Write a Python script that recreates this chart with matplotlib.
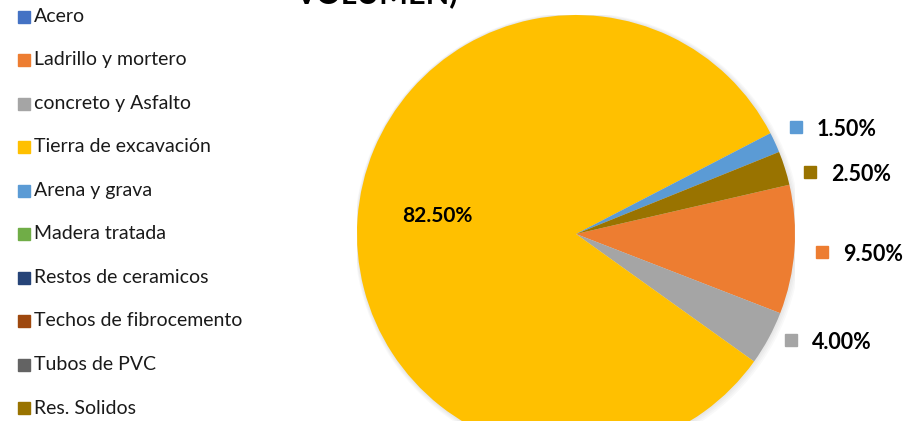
import numpy as np
from matplotlib import pyplot as plt

CATEGORIES = ['Acero', 'Ladrillo y mortero', 'concreto y Asfalto', 'Tierra de excavación',
              'Arena y grava', 'Madera tratada', 'Restos de ceramicos',
              'Techos de fibrocemento', 'Tubos de PVC', 'Res. Solidos']
VALUES = [0.0, 9.5, 4.0, 82.5, 1.5, 0.0, 0.0, 0.0, 0.0, 2.5]
COLORS = ['#4472C4', '#ED7D31', '#A5A5A5', '#FFC000', '#5B9BD5',
          '#70AD47', '#264478', '#9E480E', '#636363', '#997300']
TITLE = 'VOLUMEN)'

# label placement (angle in degrees, distance in radii), by category index
LABEL_POS = {1: (-4.2, 1.126), 2: (-26.2, 1.094), 3: (172.6, 0.638),
             4: (25.9, 1.117), 9: (14.8, 1.105)}
INSIDE = [3]
FONT = ['Lato', 'DejaVu Sans']


def main():
    plt.rcParams['font.family'] = FONT
    W, H = 912, 421
    fig = plt.figure(figsize=(W / 100, H / 100), dpi=100)

    # pie: centre (576, 234) px, radius 219 px
    cx, cy, r = 576, 234, 219
    ax = fig.add_axes([(cx - r) / W, (H - cy - r) / H, 2 * r / W, 2 * r / H])

    # soft shadow round the pie
    for k in range(5):
        ax.add_patch(plt.Circle((0.002 * k, -0.002 * k), 1 + 0.005 * k, color='black',
                                alpha=0.025, linewidth=0, zorder=0))

    wedges, _ = ax.pie(VALUES, colors=COLORS, startangle=13, counterclock=False,
                       radius=1, wedgeprops=dict(linewidth=0, zorder=2))
    ax.set_xlim(-1, 1)
    ax.set_ylim(-1, 1)

    for i, w in enumerate(wedges):
        if VALUES[i] == 0:
            continue
        label = '{:.2f}%'.format(VALUES[i])
        ang, d = LABEL_POS[i]
        x, y = d * np.cos(np.deg2rad(ang)), d * np.sin(np.deg2rad(ang))
        if i in INSIDE:
            ax.text(x, y, label, ha='center', va='center', fontsize=15,
                    fontweight='bold', zorder=5)
        else:
            ax.plot([x], [y], marker='s', markersize=9, color=COLORS[i],
                    linestyle='none', clip_on=False, zorder=5)
            ax.annotate(label, xy=(x, y), xytext=(15, -2), textcoords='offset points',
                        ha='left', va='center', fontsize=15.5, fontweight='bold',
                        annotation_clip=False, zorder=5)

    # legend on the left
    for i, name in enumerate(CATEGORIES):
        y = 16.5 + i * 43.5
        fig.patches.append(plt.Rectangle((18 / W, 1 - (y + 6) / H), 12 / W, 12 / H,
                                         transform=fig.transFigure, color=COLORS[i]))
        fig.text(34 / W, 1 - y / H, name, ha='left', va='center', fontsize=14,
                 color='#1a1a1a')

    # title is cut by the top edge, as in the original
    fig.text(376 / W, 1 - 3 / H, TITLE, ha='center', va='baseline', fontsize=22,
             fontweight='bold')

    fig.savefig('out.png', dpi=100)


if __name__ == '__main__':
    main()
